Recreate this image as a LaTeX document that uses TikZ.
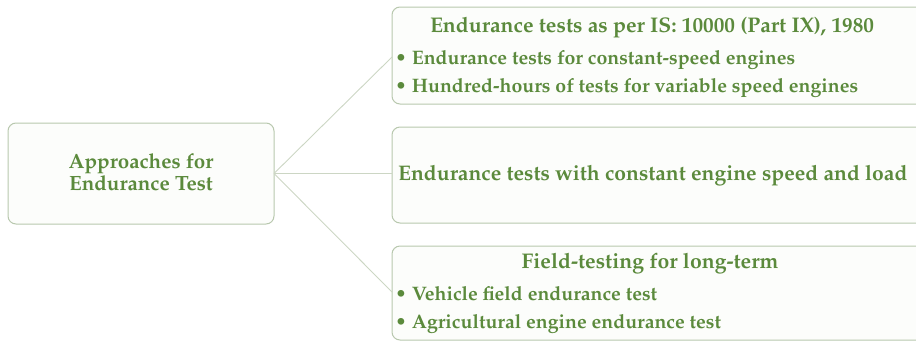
\documentclass[tikz,border=0pt]{standalone}
\usepackage[T1]{fontenc}
\usepackage{mathpazo}
\definecolor{txtgreen}{HTML}{5B8A3C}
\definecolor{boxline}{HTML}{B8C8AE}
\definecolor{conline}{HTML}{CCD6C4}
\definecolor{boxfill}{HTML}{FCFDFB}
\tikzset{
  box/.style={draw=boxline, line width=1pt, fill=boxfill, rounded corners=8pt},
  conn/.style={draw=conline, line width=0.9pt},
  ttl/.style={text=txtgreen, font=\fontsize{21.2}{24}\selectfont\bfseries, inner sep=0pt},
  itm/.style={text=txtgreen, font=\fontsize{19.5}{22}\selectfont\bfseries, inner sep=0pt, anchor=base west},
}
\begin{document}
\begin{tikzpicture}[x=1pt,y=-1pt]
\useasboundingbox (0,0) rectangle (916,341);
\clip (0,0) rectangle (916,341);
% boxes
\draw[box] (8,123) rectangle (274,224);
\coordinate (L) at (274,173.5);
\draw[box] (392,7) rectangle (935,104);
\coordinate (A) at (392,57);
\draw[box] (392,127) rectangle (935,223);
\coordinate (B) at (392,173.5);
\draw[box] (392,246) rectangle (935,340);
\coordinate (C) at (392,292);
% connectors
\draw[conn] (L) -- (A);
\draw[conn] (L) -- (B);
\draw[conn] (L) -- (C);
% left text
\node[ttl, anchor=base, font=\fontsize{20.6}{23}\selectfont\bfseries] (l1) at (141,168) {Approaches for};
\node[ttl, anchor=base, font=\fontsize{20.6}{23}\selectfont\bfseries] (l2) at (141,190) {Endurance Test};
% top box
\node[ttl, anchor=base] (t0) at (652,32) {Endurance tests as per IS: 10000 (Part IX), 1980};
\node[itm] (t1) at (395,64) {\textbullet\ Endurance tests for constant-speed engines};
\node[itm] (t2) at (395,92) {\textbullet\ Hundred-hours of tests for variable speed engines};
% middle box
\node[ttl, anchor=base west, font=\fontsize{21.1}{24}\selectfont\bfseries] (m0) at (398,180) {Endurance tests with constant engine speed and load};
% bottom box
\node[ttl, anchor=base] (b0) at (650,268) {Field-testing for long-term};
\node[itm] (b1) at (395,300) {\textbullet\ Vehicle field endurance test};
\node[itm] (b2) at (395,328) {\textbullet\ Agricultural engine endurance test};
\end{tikzpicture}
\end{document}
